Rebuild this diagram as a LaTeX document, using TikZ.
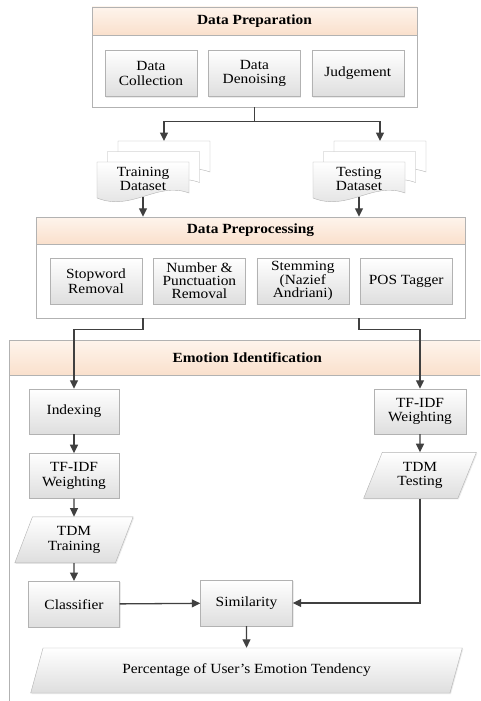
\documentclass[tikz,border=0pt]{standalone}
\usepackage{fontspec}
\setmainfont{Liberation Serif}[FakeStretch=1.1]
\usetikzlibrary{arrows.meta,positioning,shapes.geometric,shadows}

\definecolor{headpeach}{RGB}{250,224,204}
\definecolor{headlight}{RGB}{254,244,236}
\definecolor{linegray}{RGB}{64,64,64}
\definecolor{boxline}{RGB}{178,178,178}
\definecolor{boxshade}{RGB}{222,222,222}

% one sheet of a document stack, top left corner at (#1,#2)
\newcommand{\drawsheet}[3]{%
  \begin{scope}[shift={(#1,#2)}]
    \draw[#3] (0,0) -- (92,0) -- (92,31)
      .. controls (60,19) and (35,50) .. (0,36) -- cycle;
  \end{scope}}

\begin{document}
\begin{tikzpicture}[x=1pt,y=-1pt,font=\fontsize{14}{14.5}\selectfont]

\tikzstyle{procbox}=[draw=boxline,top color=white,bottom color=boxshade,minimum width=92pt,minimum height=46pt,align=center,inner sep=1pt,drop shadow={shadow xshift=1pt,shadow yshift=-1pt,fill=black!15}]
\tikzstyle{databox}=[procbox,trapezium,trapezium left angle=68,trapezium right angle=112,trapezium stretches=true]
\tikzstyle{groupbox}=[draw=boxline,fill=white]
\tikzstyle{headbox}=[draw=boxline,top color=headlight,bottom color=headpeach,font=\fontsize{14}{14.5}\selectfont\bfseries,anchor=north,minimum height=28pt]
\tikzstyle{sheet}=[draw=boxline,fill=white]
\tikzstyle{tightbox}=[font=\fontsize{14}{12.8}\selectfont]
\tikzstyle{flow}=[draw=linegray,line width=1.3pt,-{Triangle[length=8.5pt,width=8pt]}]

\useasboundingbox (0,0) rectangle (480,701);
\clip (0,0) rectangle (480,701);

%Data Preparation
\node [groupbox,minimum width=325pt,minimum height=100pt] (prep) at (254.5,57) {};
\node [headbox,minimum width=325pt] (preptitle) at (prep.north) {Data Preparation};
\node [procbox] (collect) at (151,73.5) {Data\\Collection};
\node [procbox,right=11pt of collect] (denoise) {Data\\Denoising};
\node [procbox,right=11pt of denoise] (judge) {Judgement};

%datasets
\drawsheet{118}{141}{sheet}
\drawsheet{107.5}{151.5}{sheet}
\drawsheet{97}{162}{sheet,top color=white,bottom color=boxshade}
\drawsheet{334}{141}{sheet}
\drawsheet{323.5}{151.5}{sheet}
\drawsheet{313}{162}{sheet,top color=white,bottom color=boxshade}
\node [align=center,minimum width=92pt,minimum height=36pt,inner sep=0pt] (trainset) at (143,179) {Training\\Dataset};
\node [align=center,minimum width=92pt,minimum height=36pt,inner sep=0pt] (testset) at (359,179) {Testing\\Dataset};
\coordinate (trainback) at (164,141);
\coordinate (testback) at (380,141);

\draw [flow] (prep.south) -- ++(0,14) -| (trainback);
\draw [flow] (prep.south) -- ++(0,14) -| (testback);

%Data Preprocessing
\node [groupbox,minimum width=429pt,minimum height=101pt] (prepro) at (250.5,267.5) {};
\node [headbox,minimum width=429pt,minimum height=27pt] (preprotitle) at (prepro.north) {Data Preprocessing};
\node [procbox] (stopword) at (96,281) {Stopword\\Removal};
\node [procbox,tightbox,right=11pt of stopword] (numpunct) {Number \&\\Punctuation\\Removal};
\node [procbox,tightbox,right=11pt of numpunct] (stemming) {Stemming\\(Nazief\\Andriani)};
\node [procbox,right=11pt of stemming] (postag) {POS Tagger};

\path (trainset.south) edge [flow] (trainset.south |- prepro.north)
      (testset.south) edge [flow] (testset.south |- prepro.north);

%Emotion Identification
\node [groupbox,anchor=north west,minimum width=480pt,minimum height=400pt] (emotion) at (9,340) {};
\node [headbox,anchor=north west,minimum width=476pt,minimum height=35pt] (emotitle) at (emotion.north west) {Emotion Identification};

\node [procbox,minimum width=90pt,minimum height=45pt] (index) at (74,411.5) {Indexing};
\node [procbox,minimum width=90pt,minimum height=45pt,below=19pt of index] (tfidfl) {TF-IDF\\Weighting};
\node [databox,minimum width=119pt,minimum height=46pt,below=18pt of tfidfl] (tdmtrain) {TDM\\Training};
\node [procbox,minimum width=91pt,below=18pt of tdmtrain] (classif) {Classifier};
\node [procbox] (simil) at (246.5,603) {Similarity};
\node [procbox,minimum height=45pt] (tfidfr) at (420,411.5) {TF-IDF\\Weighting};
\node [databox,minimum width=113pt,minimum height=46pt,below=18pt of tfidfr] (tdmtest) {TDM\\Testing};
\node [databox,trapezium left angle=63,trapezium right angle=117,minimum width=433pt,minimum height=45pt] (percent) at (246.5,670.5) {Percentage of User’s Emotion Tendency};

\draw [flow] (prepro.south -| trainset) -- ++(0,11) -| (index);
\draw [flow] (prepro.south -| testset) -- ++(0,11) -| (tfidfr);
\path (index) edge [flow] (tfidfl)
      (tfidfl) edge [flow] (tdmtrain)
      (tdmtrain) edge [flow] (classif)
      (classif) edge [flow] (simil)
      (tfidfr) edge [flow] (tdmtest)
      (simil) edge [flow] (percent);
\draw [flow] (tdmtest) |- (simil);

\end{tikzpicture}
\end{document}
